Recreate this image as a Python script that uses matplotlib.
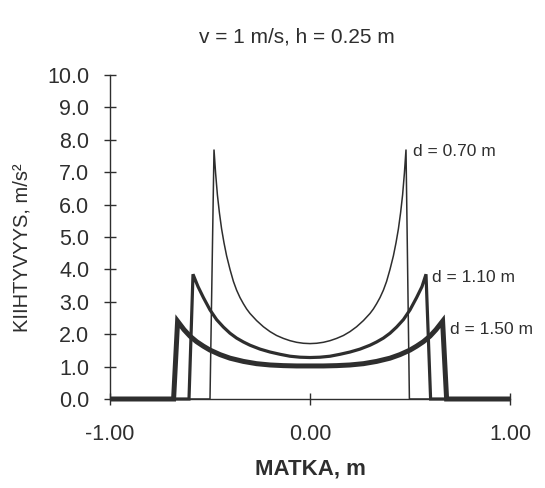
import matplotlib
matplotlib.use("Agg")
import matplotlib.pyplot as plt

# ---- data ----
title = "v = 1 m/s, h = 0.25 m"
xlabel = "MATKA, m"
ylabel = "KIIHTYVYYS, m/s²"
xticks = [-1.0, 0.0, 1.0]
yticks = [0.0, 1.0, 2.0, 3.0, 4.0, 5.0, 6.0, 7.0, 8.0, 9.0, 10.0]

labels = ["d = 0.70 m", "d = 1.10 m", "d = 1.50 m"]

x_070 = [-1.0, -0.50, -0.48, -0.472, -0.463, -0.453, -0.442, -0.43, -0.417, -0.40,
         -0.383, -0.367, -0.35, -0.333, -0.317, -0.30, -0.267, -0.233, -0.20,
         -0.167, -0.133, -0.10, -0.067, -0.033, 0.0,
         0.033, 0.067, 0.10, 0.133, 0.167, 0.20, 0.233, 0.267, 0.30, 0.317, 0.333,
         0.35, 0.367, 0.383, 0.40, 0.417, 0.43, 0.442, 0.453, 0.463, 0.472, 0.48,
         0.497, 1.0]
y_070 = [0.0, 0.0, 7.70, 6.97, 6.30, 5.75, 5.25, 4.82, 4.42, 4.00,
         3.63, 3.36, 3.13, 2.94, 2.78, 2.64, 2.42, 2.23, 2.08,
         1.96, 1.87, 1.80, 1.75, 1.72, 1.71,
         1.72, 1.75, 1.80, 1.87, 1.96, 2.08, 2.23, 2.42, 2.64, 2.78, 2.94,
         3.13, 3.36, 3.63, 4.00, 4.42, 4.82, 5.25, 5.75, 6.30, 6.97, 7.70,
         0.0, 0.0]

x_110 = [-1.0, -0.605, -0.585, -0.56, -0.533, -0.50, -0.467, -0.433, -0.40, -0.367,
         -0.333, -0.30, -0.25, -0.20, -0.15, -0.10, -0.05, 0.0,
         0.05, 0.10, 0.15, 0.20, 0.25, 0.30, 0.333, 0.367, 0.40, 0.433, 0.467,
         0.50, 0.533, 0.56, 0.58, 0.603, 1.0]
y_110 = [0.0, 0.0, 3.85, 3.47, 3.13, 2.75, 2.45, 2.22, 2.03, 1.88,
         1.76, 1.66, 1.54, 1.45, 1.38, 1.32, 1.29, 1.28,
         1.29, 1.32, 1.38, 1.45, 1.54, 1.66, 1.76, 1.88, 2.03, 2.22, 2.45,
         2.75, 3.13, 3.47, 3.85, 0.0, 0.0]

x_150 = [-1.0, -0.682, -0.662, -0.63, -0.60, -0.567, -0.533, -0.50, -0.45, -0.40,
         -0.333, -0.267, -0.20, -0.133, -0.067, 0.0,
         0.067, 0.133, 0.20, 0.267, 0.333, 0.40, 0.45, 0.50, 0.533, 0.567, 0.60,
         0.63, 0.663, 0.683, 1.0]
y_150 = [0.0, 0.0, 2.40, 2.14, 1.94, 1.77, 1.63, 1.51, 1.37, 1.26,
         1.16, 1.09, 1.05, 1.03, 1.02, 1.02,
         1.02, 1.03, 1.05, 1.09, 1.16, 1.26, 1.37, 1.51, 1.63, 1.77, 1.94,
         2.14, 2.40, 0.0, 0.0]

# ---- styling ----
ink = "#2e2e2e"
plt.rcParams['font.family'] = ['Liberation Sans', 'DejaVu Sans']

fig = plt.figure(figsize=(5.45, 4.88), dpi=100)
ax = fig.add_axes([110 / 545, (488 - 399) / 488, 400 / 545, 324 / 488])

series = [(x_150, y_150, 3.6), (x_110, y_110, 2.3), (x_070, y_070, 1.1)]
for xs, ys, lw in series:
    ax.plot(xs, ys, color=ink, lw=lw, solid_joinstyle='miter',
            solid_capstyle='butt', clip_on=False, zorder=3)

ax.set_xlim(-1.0, 1.0)
ax.set_ylim(0.0, 10.0)
ax.set_xticks(xticks)
ax.set_xticklabels([f"{v:.2f}" for v in xticks])
ax.set_yticks(yticks)
ax.set_yticklabels([f"{v:.1f}" for v in yticks])

for s in ['top', 'right']:
    ax.spines[s].set_visible(False)
for s in ['left', 'bottom']:
    ax.spines[s].set_color(ink)
    ax.spines[s].set_linewidth(1.0)

ax.tick_params(axis='y', direction='inout', length=8, width=1.0, color=ink,
               labelsize=15.5, labelcolor=ink, pad=11)
ax.tick_params(axis='x', direction='inout', length=8, width=1.0, color=ink,
               labelsize=15.5, labelcolor=ink, pad=14)

ax.set_xlabel(xlabel, fontsize=16, fontweight='bold', color=ink, labelpad=10)
fig.text(22 / 545, 1 - 248 / 488, ylabel, rotation=90, ha='center', va='center',
         fontsize=14.5, color=ink,
         family=['Liberation Sans Narrow', 'DejaVu Sans Condensed', 'Liberation Sans'])

fig.text(297 / 545, 1 - 37 / 488, title, ha='center', va='center',
         fontsize=15, color=ink)

label_pos = [(0.515, 7.65), (0.61, 3.74), (0.70, 2.13)]
for (lx, ly), lab in zip(label_pos, labels):
    ax.text(lx, ly, lab, ha='left', va='center', fontsize=12.5, color=ink)

fig.savefig("out.png", dpi=100)
